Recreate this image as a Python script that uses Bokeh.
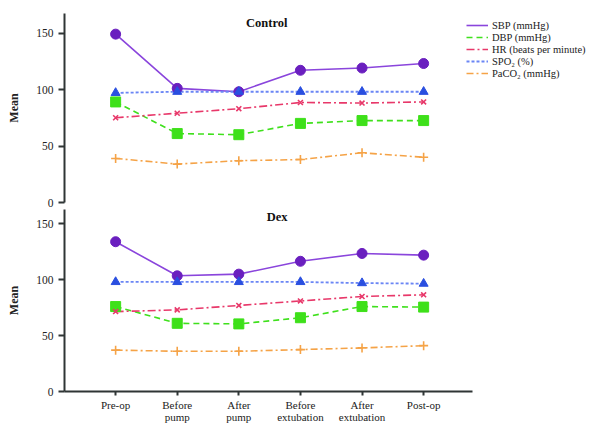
from bokeh.plotting import figure
from bokeh.models import Legend, LegendItem, Label, FixedTicker, Range1d
from bokeh.embed import file_html
from bokeh.resources import INLINE

# ---------------- data ----------------
categories = ["Pre-op", "Before pump", "After pump", "Before extubation", "After extubation", "Post-op"]
tick_labels = ["Pre-op", "Before\npump", "After\npump", "Before\nextubation", "After\nextubation", "Post-op"]
y_ticks = [0, 50, 100, 150]

series_names = ["SBP (mmHg)", "DBP (mmHg)", "HR (beats per minute)", "SPO\u2082 (%)", "PaCO\u2082 (mmHg)"]

# Control group
sbp_control = [149, 101, 98, 117, 119, 123]
dbp_control = [89, 61, 60, 70, 72.5, 72.5]
hr_control = [75, 79, 83, 88.5, 88, 89]
spo2_control = [97, 98, 98, 98, 98, 98]
paco2_control = [39, 34, 37, 38, 44, 40]

# Dex group
sbp_dex = [134, 103.5, 105, 116.5, 123.5, 122]
dbp_dex = [76, 61, 60.5, 66, 76, 75.5]
hr_dex = [71.5, 73, 77, 81, 85, 86.5]
spo2_dex = [98, 98, 98, 98, 97, 96.5]
paco2_dex = [37, 36, 36, 37.5, 39, 41]

# ---------------- styles ----------------
styles = [
    dict(line_color="#8a45dc", dash="solid", marker="circle", mcolor="#6a1fbf", size=10, lw=1.6),
    dict(line_color="#3fe01c", dash="6 4", marker="square", mcolor="#3ee01a", size=10, lw=1.6),
    dict(line_color="#e8386a", dash="8 3 2 3", marker="x", mcolor="#e8386a", size=7, lw=1.6),
    dict(line_color="#6b86f5", dash="3 2", marker="triangle", mcolor="#2a4fe0", size=9, lw=1.8),
    dict(line_color="#f5a347", dash="7 3 2 3", marker="cross", mcolor="#f5a347", size=9, lw=1.6),
]

FONT = "Liberation Serif"
AXIS_COLOR = "#2f3535"
PX_PER_UNIT = 61.6
X_START = -0.83
TOTAL_W = 594
LEFT = 64
BOT_FRAME_W = 408
TOP_FRAME_W = TOTAL_W - LEFT
PX_PER_Y = 1.13

TOP_FRAME_H = 189
BOT_FRAME_H = 184

x = list(range(len(categories)))


def style_y(p):
    ax = p.yaxis[0]
    ax.ticker = FixedTicker(ticks=y_ticks)
    ax.axis_line_color = AXIS_COLOR
    ax.axis_line_width = 2
    ax.major_tick_line_color = AXIS_COLOR
    ax.major_tick_line_width = 2
    ax.major_tick_out = 6
    ax.major_tick_in = 0
    ax.minor_tick_line_color = None
    ax.major_label_text_font = FONT
    ax.major_label_text_font_size = "11.5px"
    ax.major_label_text_color = "#222222"
    ax.major_label_standoff = 5
    ax.axis_label = "Mean"
    ax.axis_label_text_font = FONT
    ax.axis_label_text_font_style = "bold"
    ax.axis_label_text_font_size = "12px"
    ax.axis_label_text_color = "#222222"
    ax.axis_label_standoff = 12


def draw_series(p, data):
    line_renderers = []
    for vals, st in zip(data, styles):
        r = p.line(x, vals, line_color=st["line_color"], line_width=st["lw"], line_dash=st["dash"])
        line_renderers.append(r)
    for vals, st in zip(data, styles):
        if st["marker"] in ("x", "cross"):
            p.scatter(x, vals, marker=st["marker"], size=st["size"], line_color=st["mcolor"],
                      line_width=1.6, fill_color=None)
        else:
            p.scatter(x, vals, marker=st["marker"], size=st["size"], fill_color=st["mcolor"],
                      line_color=st["mcolor"], line_width=1)
    return line_renderers


def group_label(p, text, frame_h):
    p.add_layout(Label(x=223, y=frame_h - 2, x_units="screen", y_units="screen", text=text,
                       text_font=FONT, text_font_style="bold", text_font_size="12.5px",
                       text_align="right", text_baseline="top", text_color="#111111"))


# ---------------- top panel (Control) ----------------
p1 = figure(width=TOTAL_W, height=13 + TOP_FRAME_H + 7, output_backend="svg", toolbar_location=None,
            x_axis_location=None,
            x_range=Range1d(X_START, X_START + TOP_FRAME_W / PX_PER_UNIT),
            y_range=Range1d(0, TOP_FRAME_H / PX_PER_Y),
            min_border_left=LEFT, min_border_right=0, min_border_top=13, min_border_bottom=7)
p1.outline_line_color = None
p1.grid.visible = False
style_y(p1)
lines1 = draw_series(p1, [sbp_control, dbp_control, hr_control, spo2_control, paco2_control])
group_label(p1, "Control", TOP_FRAME_H)

legend = Legend(items=[LegendItem(label=n, renderers=[r]) for n, r in zip(series_names, lines1)],
                location=(TOP_FRAME_W - 128, 123), orientation="vertical",
                border_line_color=None, background_fill_alpha=0,
                padding=0, margin=0, spacing=0,
                glyph_width=22, glyph_height=12, label_height=12, label_standoff=4,
                label_text_font=FONT, label_text_font_size="10.5px", label_text_color="#222222")
p1.add_layout(legend)

# ---------------- bottom panel (Dex) ----------------
p2 = figure(width=TOTAL_W, height=0 + BOT_FRAME_H + 32, output_backend="svg", toolbar_location=None,
            x_range=Range1d(X_START, X_START + BOT_FRAME_W / PX_PER_UNIT),
            y_range=Range1d(0, BOT_FRAME_H / PX_PER_Y),
            min_border_left=LEFT, min_border_right=TOTAL_W - LEFT - BOT_FRAME_W,
            min_border_top=0, min_border_bottom=32)
p2.outline_line_color = None
p2.grid.visible = False
style_y(p2)
xa = p2.xaxis[0]
xa.ticker = FixedTicker(ticks=x)
xa.major_label_overrides = {i: lab for i, lab in zip(x, tick_labels)}
xa.axis_line_color = AXIS_COLOR
xa.axis_line_width = 2
xa.major_tick_line_color = AXIS_COLOR
xa.major_tick_line_width = 2
xa.major_tick_out = 4
xa.major_tick_in = 0
xa.minor_tick_line_color = None
xa.major_label_text_font = FONT
xa.major_label_text_font_size = "11px"
xa.major_label_text_color = "#222222"
xa.major_label_standoff = 3
xa.major_label_text_line_height = 1.0

draw_series(p2, [sbp_dex, dbp_dex, hr_dex, spo2_dex, paco2_dex])
group_label(p2, "Dex", BOT_FRAME_H)

open("out.html", "w").write(file_html([p1, p2], INLINE))
